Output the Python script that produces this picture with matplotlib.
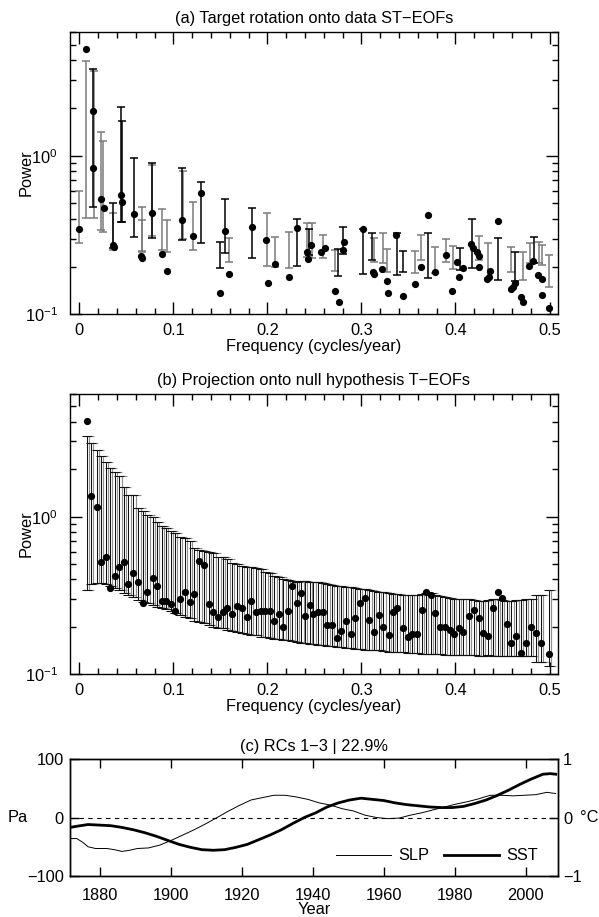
import matplotlib
matplotlib.use("Agg")
import matplotlib.pyplot as plt
import matplotlib.ticker as mticker
import matplotlib.transforms as mtransforms
import numpy as np

plt.rcParams["font.family"] = ["Liberation Sans", "DejaVu Sans"]
plt.rcParams["mathtext.fontset"] = "custom"
plt.rcParams["mathtext.rm"] = "Liberation Sans"
plt.rcParams["mathtext.it"] = "Liberation Sans:italic"
plt.rcParams["mathtext.bf"] = "Liberation Sans:bold"
plt.rcParams["axes.linewidth"] = 1.0
FS = 11.8
GRAY = "#7a7a7a"

# ---------------- (a) target rotation onto data ST-EOFs ----------------
freq_a = [0.0000, 0.0071, 0.0149, 0.0149, 0.0234, 0.0263, 0.0355, 0.0369,
          0.0444, 0.0451, 0.0582, 0.0660, 0.0667, 0.0770, 0.0877, 0.0930,
          0.1093, 0.1206, 0.1298, 0.1497, 0.1553, 0.1589, 0.1837, 0.1986,
          0.2007, 0.2082, 0.2234, 0.2316, 0.2426, 0.2433, 0.2462, 0.2568,
          0.2614, 0.2717, 0.2763, 0.2802, 0.2816, 0.3015, 0.3121, 0.3132,
          0.3223, 0.3270, 0.3284, 0.3369, 0.3444, 0.3571, 0.3632, 0.3706,
          0.3781, 0.3898, 0.3965, 0.4018, 0.4039, 0.4082, 0.4167, 0.4191,
          0.4228, 0.4252, 0.4255, 0.4334, 0.4355, 0.4369, 0.4451, 0.4589,
          0.4611, 0.4635, 0.4699, 0.4717, 0.4787, 0.4823, 0.4877, 0.4919,
          0.4919, 0.4994]
power_a = [0.343, 4.69, 1.91, 0.833, 0.531, 0.466, 0.273, 0.267,
           0.565, 0.508, 0.429, 0.233, 0.226, 0.433, 0.240, 0.188,
           0.393, 0.312, 0.585, 0.137, 0.337, 0.179, 0.355, 0.294,
           0.157, 0.208, 0.173, 0.348, 0.248, 0.222, 0.272, 0.248,
           0.263, 0.140, 0.120, 0.254, 0.286, 0.343, 0.184, 0.179,
           0.192, 0.162, 0.136, 0.316, 0.131, 0.155, 0.199, 0.423,
           0.185, 0.236, 0.141, 0.213, 0.172, 0.195, 0.277, 0.261,
           0.246, 0.233, 0.200, 0.166, 0.173, 0.188, 0.389, 0.144,
           0.149, 0.157, 0.129, 0.120, 0.202, 0.218, 0.177, 0.166,
           0.132, 0.110]

# significance intervals: frequency, upper, lower, drawn in black (1) or gray (0)
bar_f_a = [0.0000, 0.0071, 0.0149, 0.0155, 0.0234, 0.0248, 0.0355, 0.0362,
           0.0444, 0.0451, 0.0582, 0.0664, 0.0670, 0.0770, 0.0775, 0.0877,
           0.0930, 0.1093, 0.1100, 0.1206, 0.1295, 0.1497, 0.1553, 0.1589,
           0.1837, 0.1993, 0.2080, 0.2228, 0.2316, 0.2426, 0.2440, 0.2473,
           0.2590, 0.2717, 0.2755, 0.2802, 0.3015, 0.3110, 0.3135, 0.3228,
           0.3277, 0.3377, 0.3440, 0.3571, 0.3632, 0.3706, 0.3781, 0.3898,
           0.3972, 0.4043, 0.4174, 0.4245, 0.4351, 0.4451, 0.4589, 0.4635,
           0.4717, 0.4795, 0.4830, 0.4883, 0.4919, 0.4990]
bar_hi_a = [0.601, 3.97, 3.52, 3.40, 1.42, 1.24, 0.505, 0.437,
            2.04, 1.66, 0.971, 0.473, 0.393, 0.903, 0.870, 0.459,
            0.393, 0.840, 0.800, 0.513, 0.680, 0.287, 0.531, 0.302,
            0.470, 0.437, 0.306, 0.332, 0.397, 0.378, 0.345, 0.378,
            0.316, 0.254, 0.257, 0.353, 0.343, 0.327, 0.302, 0.327,
            0.258, 0.324, 0.252, 0.252, 0.316, 0.327, 0.265, 0.298,
            0.270, 0.261, 0.401, 0.312, 0.280, 0.304, 0.265, 0.248,
            0.248, 0.283, 0.306, 0.287, 0.273, 0.236]
bar_lo_a = [0.280, 0.407, 0.477, 0.403, 0.340, 0.332, 0.260, 0.254,
            0.384, 0.380, 0.308, 0.248, 0.250, 0.302, 0.310, 0.254,
            0.248, 0.294, 0.300, 0.254, 0.283, 0.197, 0.245, 0.215,
            0.227, 0.202, 0.200, 0.195, 0.202, 0.231, 0.235, 0.225,
            0.225, 0.188, 0.174, 0.240, 0.179, 0.220, 0.215, 0.210,
            0.186, 0.177, 0.186, 0.183, 0.220, 0.169, 0.183, 0.215,
            0.192, 0.190, 0.195, 0.220, 0.169, 0.165, 0.186, 0.163,
            0.165, 0.210, 0.212, 0.210, 0.205, 0.149]
bar_dark_a = [0, 0, 1, 0, 0, 0, 1, 0,
              1, 1, 1, 0, 0, 1, 0, 0,
              0, 1, 0, 0, 1, 1, 1, 0,
              1, 0, 0, 0, 1, 0, 1, 0,
              0, 0, 1, 1, 1, 1, 0, 0,
              0, 1, 1, 0, 0, 1, 0, 0,
              0, 1, 1, 0, 0, 1, 0, 1,
              0, 0, 1, 0, 0, 0]

# ---------------- (b) projection onto null-hypothesis T-EOFs ----------------
freq_b = [0.0078, 0.0121, 0.0185, 0.0227, 0.0281, 0.0327, 0.0380, 0.0426,
          0.0476, 0.0522, 0.0575, 0.0628, 0.0674, 0.0724, 0.0781, 0.0823,
          0.0876, 0.0922, 0.0976, 0.1018, 0.1071, 0.1124, 0.1178, 0.1224,
          0.1277, 0.1327, 0.1380, 0.1426, 0.1479, 0.1525, 0.1575, 0.1621,
          0.1674, 0.1727, 0.1780, 0.1823, 0.1880, 0.1929, 0.1979, 0.2029,
          0.2075, 0.2128, 0.2170, 0.2215, 0.2265, 0.2310, 0.2360, 0.2400,
          0.2454, 0.2490, 0.2543, 0.2589, 0.2639, 0.2685, 0.2738, 0.2784,
          0.2837, 0.2887, 0.2933, 0.2986, 0.3039, 0.3085, 0.3135, 0.3185,
          0.3234, 0.3288, 0.3334, 0.3383, 0.3440, 0.3490, 0.3539, 0.3589,
          0.3642, 0.3688, 0.3738, 0.3784, 0.3837, 0.3890, 0.3937, 0.3986,
          0.4036, 0.4085, 0.4142, 0.4192, 0.4245, 0.4291, 0.4351, 0.4394,
          0.4447, 0.4493, 0.4546, 0.4593, 0.4646, 0.4695, 0.4752, 0.4802,
          0.4858, 0.4908, 0.4993]
power_b = [4.07, 1.36, 1.16, 0.513, 0.558, 0.353, 0.420, 0.482,
           0.513, 0.372, 0.437, 0.387, 0.285, 0.331, 0.408, 0.363,
           0.293, 0.293, 0.278, 0.253, 0.301, 0.331, 0.289, 0.322,
           0.526, 0.496, 0.279, 0.247, 0.230, 0.247, 0.262, 0.241,
           0.273, 0.262, 0.232, 0.293, 0.250, 0.253, 0.253, 0.253,
           0.219, 0.241, 0.200, 0.253, 0.365, 0.282, 0.326, 0.234,
           0.275, 0.240, 0.250, 0.247, 0.206, 0.204, 0.169, 0.189,
           0.218, 0.180, 0.227, 0.285, 0.303, 0.221, 0.186, 0.238,
           0.200, 0.178, 0.250, 0.265, 0.196, 0.173, 0.180, 0.180,
           0.256, 0.334, 0.317, 0.244, 0.200, 0.200, 0.191, 0.180,
           0.196, 0.186, 0.234, 0.256, 0.229, 0.182, 0.175, 0.262,
           0.334, 0.303, 0.208, 0.157, 0.176, 0.136, 0.157, 0.200,
           0.182, 0.159, 0.135]
upper_b = [3.25, 2.92, 2.65, 2.44, 2.23, 2.03, 1.93, 1.80,
           1.54, 1.37, 1.37, 1.13, 1.08, 1.03, 1.00, 0.930,
           0.877, 0.844, 0.815, 0.784, 0.747, 0.729, 0.701, 0.630,
           0.615, 0.609, 0.600, 0.586, 0.558, 0.552, 0.536, 0.506,
           0.501, 0.489, 0.482, 0.477, 0.470, 0.464, 0.448, 0.437,
           0.421, 0.412, 0.401, 0.397, 0.393, 0.387, 0.393, 0.391,
           0.387, 0.385, 0.383, 0.382, 0.374, 0.369, 0.365, 0.363,
           0.360, 0.356, 0.351, 0.346, 0.346, 0.343, 0.339, 0.334,
           0.331, 0.326, 0.323, 0.322, 0.319, 0.319, 0.319, 0.319,
           0.322, 0.326, 0.326, 0.317, 0.314, 0.308, 0.303, 0.302,
           0.299, 0.299, 0.299, 0.296, 0.293, 0.293, 0.296, 0.299,
           0.299, 0.296, 0.293, 0.293, 0.296, 0.296, 0.299, 0.299,
           0.317, 0.317, 0.343]
lower_b = [0.343, 0.374, 0.378, 0.382, 0.374, 0.363, 0.351, 0.343,
           0.327, 0.319, 0.311, 0.296, 0.289, 0.282, 0.275, 0.269,
           0.262, 0.258, 0.253, 0.246, 0.238, 0.232, 0.227, 0.218,
           0.216, 0.211, 0.206, 0.200, 0.196, 0.196, 0.191, 0.189,
           0.186, 0.184, 0.180, 0.178, 0.177, 0.173, 0.172, 0.169,
           0.168, 0.167, 0.165, 0.165, 0.163, 0.161, 0.159, 0.159,
           0.156, 0.155, 0.154, 0.153, 0.152, 0.151, 0.150, 0.148,
           0.147, 0.146, 0.145, 0.144, 0.1435, 0.143, 0.1425, 0.142,
           0.140, 0.139, 0.1385, 0.138, 0.1375, 0.137, 0.137, 0.1365,
           0.1355, 0.1355, 0.135, 0.135, 0.134, 0.1325, 0.1325, 0.1325,
           0.132, 0.132, 0.132, 0.132, 0.1315, 0.1315, 0.132, 0.1315,
           0.131, 0.131, 0.131, 0.131, 0.1305, 0.130, 0.1305, 0.131,
           0.120, 0.120, 0.113]

# ---------------- (c) reconstructed components ----------------
slp_years = [1871.5, 1873.4, 1875.0, 1876.6, 1878.7, 1881.9, 1884.0, 1886.2,
             1888.3, 1890.5, 1893.7, 1896.9, 1900.1, 1903.3, 1906.5, 1909.7,
             1913.0, 1916.2, 1919.4, 1922.6, 1925.8, 1929.0, 1932.2, 1935.4,
             1938.6, 1941.8, 1945.1, 1948.3, 1951.5, 1954.7, 1957.9, 1961.1,
             1964.3, 1967.5, 1970.7, 1973.9, 1977.2, 1980.4, 1983.6, 1986.8,
             1990.0, 1993.2, 1996.4, 1999.6, 2002.8, 2006.0, 2008.5]
slp_pa = [-36, -36, -42, -50, -53, -53, -55, -58,
          -56, -53, -52, -47, -39, -30, -21, -11,
          0, 11, 21, 30, 34, 38, 38, 35,
          31, 25, 21, 15, 11, 4, 0, -2,
          -1, 4, 8, 13, 18, 23, 27, 32,
          38, 38, 37, 38, 39, 43, 41]
sst_years = [1871.5, 1873.4, 1876.6, 1879.8, 1883.0, 1886.2, 1889.4, 1892.6,
             1895.8, 1899.0, 1902.3, 1905.5, 1908.7, 1911.9, 1915.1, 1918.3,
             1921.5, 1924.7, 1927.9, 1931.1, 1934.4, 1937.6, 1940.8, 1944.0,
             1947.2, 1950.4, 1953.6, 1956.8, 1960.0, 1963.2, 1966.4, 1969.7,
             1972.9, 1976.1, 1979.3, 1982.5, 1985.7, 1988.9, 1992.1, 1995.3,
             1998.5, 2001.7, 2004.9, 2007.0, 2008.5]
sst_c = [-0.17, -0.15, -0.12, -0.13, -0.14, -0.17, -0.21, -0.26,
         -0.32, -0.39, -0.46, -0.51, -0.55, -0.56, -0.55, -0.51,
         -0.46, -0.38, -0.30, -0.21, -0.10, 0.00, 0.08, 0.18,
         0.25, 0.30, 0.33, 0.31, 0.29, 0.25, 0.22, 0.20,
         0.18, 0.17, 0.17, 0.19, 0.24, 0.30, 0.38, 0.47,
         0.57, 0.66, 0.74, 0.75, 0.74]

# ---------------- figure ----------------
W, H = 599, 917
fig = plt.figure(figsize=(W / 100, H / 100), dpi=100)


def box(left, top, right, bottom):
    return [left / W, 1 - bottom / H, (right - left) / W, (bottom - top) / H]


ax_a = fig.add_axes(box(70, 31.7, 557.5, 314.3))
ax_b = fig.add_axes(box(70, 394.0, 557.5, 674.3))
ax_c = fig.add_axes(box(70, 759.0, 557.5, 876.0))


def style_power(ax, top):
    ax.set_yscale("log")
    ax.set_xlim(-0.0099, 0.5085)
    ax.set_ylim(0.1, top)
    ax.xaxis.set_major_locator(mticker.MultipleLocator(0.1))
    ax.xaxis.set_minor_locator(mticker.MultipleLocator(0.02))
    ax.xaxis.set_major_formatter(mticker.FuncFormatter(lambda v, p: f"{round(v, 2):g}"))
    ax.yaxis.set_major_locator(mticker.LogLocator(base=10, numticks=10))
    ax.yaxis.set_minor_locator(mticker.LogLocator(base=10, subs=np.arange(2, 10), numticks=20))
    ax.yaxis.set_minor_formatter(mticker.NullFormatter())
    ax.tick_params(which="both", direction="in", top=True, right=True,
                   width=1.0, labelsize=FS, color="k")
    ax.tick_params(which="major", length=8.5)
    ax.tick_params(which="minor", length=4.3)
    ax.tick_params(axis="x", pad=6.0)
    ax.tick_params(axis="y", pad=9.0)
    ax.set_xlabel("Frequency (cycles/year)", fontsize=FS)
    ax.xaxis.set_label_coords(0.5, -0.115)
    ax.xaxis.label.set_va("center")
    ax.set_ylabel("Power", fontsize=FS)
    ax.yaxis.set_label_coords(-0.09, 0.5)
    ax.yaxis.label.set_va("center")


def draw_bars(ax, f, hi, lo, color, cap, transform=None, lw=1.0):
    kw = {} if transform is None else {"transform": transform}
    ax.vlines(f, lo, hi, colors=color, lw=lw, **kw)
    ax.plot(f, hi, ls="none", marker="_", ms=cap, mew=lw, color=color, **kw)
    ax.plot(f, lo, ls="none", marker="_", ms=cap, mew=lw, color=color, **kw)


# panel (a)
style_power(ax_a, 6.05)
fa = np.array(bar_f_a)
ha = np.array(bar_hi_a)
la = np.array(bar_lo_a)
dk = np.array(bar_dark_a, dtype=bool)
draw_bars(ax_a, fa[~dk], ha[~dk], la[~dk], GRAY, 6.0, lw=1.1)
draw_bars(ax_a, fa[dk], ha[dk], la[dk], "k", 6.0, lw=1.1)
ax_a.plot(freq_a, power_a, "o", color="k", ms=5.2, mew=0, zorder=5)
ax_a.set_title("(a) Target rotation onto data ST\u2212EOFs", fontsize=FS, pad=6.5)

# panel (b): each interval drawn black with a lighter twin line beside it
style_power(ax_b, 6.0)
fb = np.array(freq_b)
ub = np.array(upper_b)
lb = np.array(lower_b)
shift = mtransforms.offset_copy(ax_b.transData, fig=fig, x=2.3, y=0, units="dots")
draw_bars(ax_b, fb, ub, lb, "#909090", 6.5, transform=shift, lw=0.85)
draw_bars(ax_b, fb, ub, lb, "#111111", 6.5, lw=0.75)
ax_b.plot(freq_b, power_b, "o", color="k", ms=5.2, mew=0, zorder=5)
ax_b.set_title("(b) Projection onto null hypothesis T\u2212EOFs", fontsize=FS, pad=6.5)

# panel (c)
ax_c.set_xlim(1871.5, 2009.0)
ax_c.set_ylim(-100, 100)
ax_c.axhline(0, color="k", lw=0.8, ls=(0, (4, 4)))
l_slp, = ax_c.plot(slp_years, slp_pa, color="k", lw=0.7, label="SLP")
ax_c2 = ax_c.twinx()
ax_c2.set_ylim(-1, 1)
l_sst, = ax_c2.plot(sst_years, sst_c, color="k", lw=2.0, label="SST")
ax_c.set_yticks([-100, 0, 100])
ax_c2.set_yticks([-1, 0, 1])
ax_c2.yaxis.set_major_formatter(mticker.FuncFormatter(lambda v, p: f"{v:.0f}".replace("-", "\u2212")))
ax_c.xaxis.set_major_locator(mticker.MultipleLocator(20))
ax_c.tick_params(which="both", direction="in", top=True, width=1.0, length=6.5,
                 labelsize=FS)
ax_c.tick_params(axis="x", pad=8.5)
ax_c.tick_params(axis="y", pad=4.5)
ax_c2.tick_params(direction="in", width=1.0, length=6.5, labelsize=FS, pad=4.0)
ax_c.set_xlabel("Year", fontsize=FS)
ax_c.xaxis.set_label_coords(0.5, -0.285)
ax_c.xaxis.label.set_va("center")
ax_c.set_ylabel("Pa", fontsize=FS, rotation=0)
ax_c.yaxis.set_label_coords(-0.107, 0.5)
ax_c.yaxis.label.set_va("center")
ax_c2.set_ylabel("\u00b0C", fontsize=FS, rotation=0)
ax_c2.yaxis.set_label_coords(1.065, 0.5)
ax_c2.yaxis.label.set_va("center")
ax_c.set_title("(c) RCs 1\u22123 | 22.9%", fontsize=FS, pad=6.0)
ax_c.legend(handles=[l_slp, l_sst], ncol=2, frameon=False, loc="center",
            bbox_to_anchor=(0.752, 0.171), fontsize=FS, handlelength=3.4,
            handletextpad=0.4, columnspacing=0.9, borderpad=0, borderaxespad=0)

fig.savefig("out.png", dpi=100)
